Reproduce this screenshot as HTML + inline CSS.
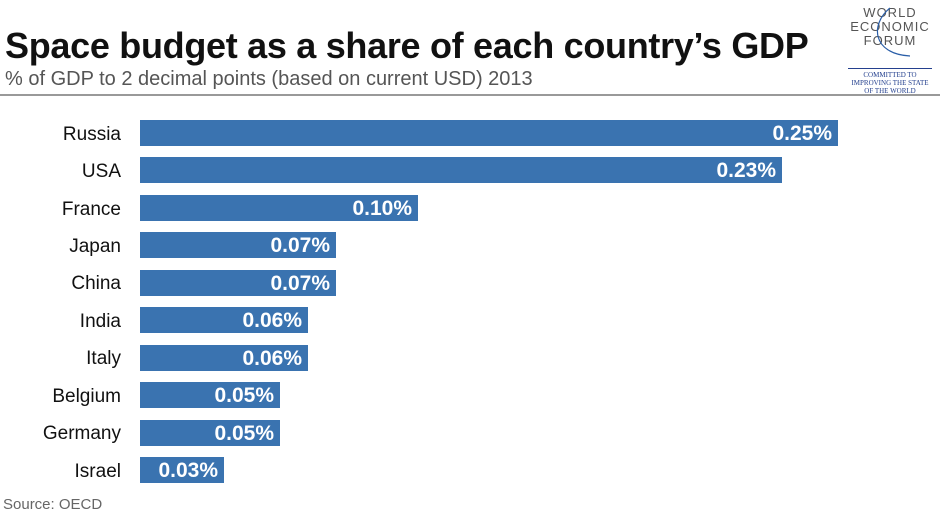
<!DOCTYPE html>
<html><head><style>
body{margin:0;width:940px;height:512px;background:#fff;position:relative;overflow:hidden;font-family:"Liberation Sans",sans-serif}
.t{position:absolute;left:5px;top:25px;font-size:36px;font-weight:bold;color:#111;letter-spacing:-0.3px}
.s{position:absolute;left:5px;top:68px;font-size:20px;color:#555}
.hr{position:absolute;left:0;top:94px;width:940px;height:2px;background:#999}
.b{position:absolute;left:140px;height:26px;background:#3a73b0}
.v{position:absolute;right:6px;top:2px;color:#fff;font-weight:bold;font-size:21px}
.l{position:absolute;right:819px;font-size:19px;color:#111}
.src{position:absolute;left:3px;top:496px;font-size:15px;color:#666}
.logo{position:absolute;left:845px;top:6px;width:90px;text-align:center;color:#555;font-size:13px;line-height:14px;letter-spacing:1px}
.logo2{position:absolute;left:848px;top:68px;width:84px;text-align:center;font-family:"Liberation Serif",serif;font-size:7px;line-height:8px;color:#24408e;border-top:1px solid #24408e;padding-top:2px;white-space:nowrap}
</style></head><body>
<div class="t">Space budget as a share of each country’s GDP</div>
<div class="s">% of GDP to 2 decimal points (based on current USD) 2013</div>
<div class="logo">WORLD<br>ECONOMIC<br>FORUM</div>
<svg style="position:absolute;left:850px;top:4px" width="80" height="60"><path d="M40 4 C20 20 22 50 60 52" fill="none" stroke="#2a5ea8" stroke-width="1.2"/></svg>
<div class="logo2">COMMITTED TO<br>IMPROVING THE STATE<br>OF THE WORLD</div>
<div class="hr"></div>
<div class="l" style="top:124px">Russia</div><div class="b" style="top:120px;width:698px"><span class="v">0.25%</span></div>
<div class="l" style="top:161px">USA</div><div class="b" style="top:157px;width:642px"><span class="v">0.23%</span></div>
<div class="l" style="top:199px">France</div><div class="b" style="top:195px;width:278px"><span class="v">0.10%</span></div>
<div class="l" style="top:236px">Japan</div><div class="b" style="top:232px;width:196px"><span class="v">0.07%</span></div>
<div class="l" style="top:273px">China</div><div class="b" style="top:270px;width:196px"><span class="v">0.07%</span></div>
<div class="l" style="top:311px">India</div><div class="b" style="top:307px;width:168px"><span class="v">0.06%</span></div>
<div class="l" style="top:348px">Italy</div><div class="b" style="top:345px;width:168px"><span class="v">0.06%</span></div>
<div class="l" style="top:386px">Belgium</div><div class="b" style="top:382px;width:140px"><span class="v">0.05%</span></div>
<div class="l" style="top:423px">Germany</div><div class="b" style="top:420px;width:140px"><span class="v">0.05%</span></div>
<div class="l" style="top:461px">Israel</div><div class="b" style="top:457px;width:84px"><span class="v">0.03%</span></div>
<div class="src">Source: OECD</div>
</body></html>
